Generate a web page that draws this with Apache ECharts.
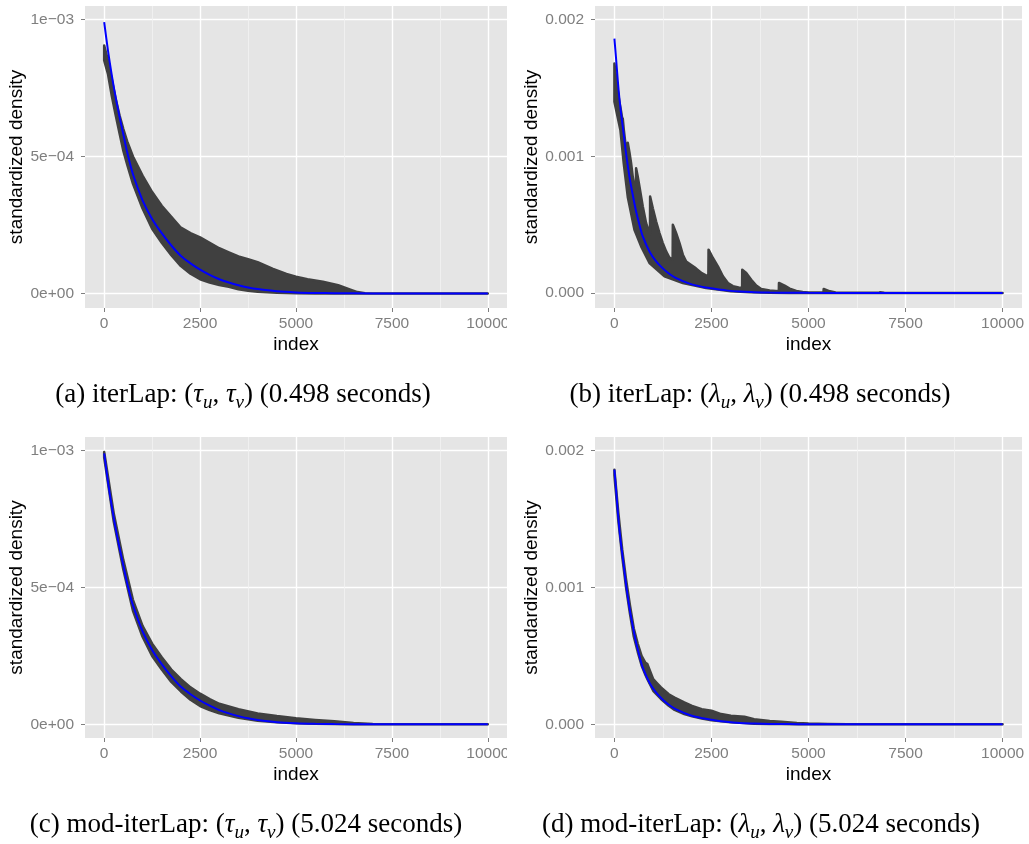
<!DOCTYPE html>
<html>
<head>
<meta charset="utf-8">
<script src="https://cdn.jsdelivr.net/npm/echarts@6/dist/echarts.min.js"></script>
<style>
html,body{margin:0;padding:0;background:#fff;}
#chart{width:1029px;height:844px;}
</style>
</head>
<body>
<div id="chart"></div>
<script>
// ---------- data (density values in units of 1e-3) ----------
const SCALE = 1e-3;

const xTicks = [0, 2500, 5000, 7500, 10000];
const xTickLabels = ['0', '2500', '5000', '7500', '10000'];
const xMinorGrid = [1250, 3750, 6250, 8750];

const yTicksTau = [0, 0.0005, 0.001];
const yTickLabelsTau = ['0e+00', '5e\u221204', '1e\u221203'];
const yTicksLambda = [0, 0.001, 0.002];
const yTickLabelsLambda = ['0.000', '0.001', '0.002'];

const captions = [
  '(a) iterLap: ({g|\u03c4}{s|u}, {g|\u03c4}{s|v}) (0.498 seconds)',
  '(b) iterLap: ({g|\u03bb}{s|u}, {g|\u03bb}{s|v}) (0.498 seconds)',
  '(c) mod-iterLap: ({g|\u03c4}{s|u}, {g|\u03c4}{s|v}) (5.024 seconds)',
  '(d) mod-iterLap: ({g|\u03bb}{s|u}, {g|\u03bb}{s|v}) (5.024 seconds)'
];

// true standardized density (blue) for tau
const trueTau = [[0,0.990],[100,0.885],[200,0.795],[300,0.715],[400,0.645],[500,0.580],[600,0.515],[750,0.435],[1000,0.340],[1250,0.272],[1500,0.220],[1750,0.175],[2000,0.137],[2250,0.110],[2500,0.087],[2750,0.068],[3000,0.052],[3250,0.040],[3500,0.030],[3750,0.022],[4000,0.016],[4500,0.008],[5000,0.004],[5500,0.002],[6000,0.001],[7000,0.0003],[8000,0.0001],[10000,0]];

// true standardized density (blue) for lambda
const trueLambda = [[0,1.861],[43,1.715],[86,1.557],[129,1.423],[172,1.314],[215,1.217],[258,1.119],[301,1.020],[387,0.852],[473,0.718],[559,0.596],[645,0.499],[731,0.414],[903,0.304],[1075,0.231],[1247,0.180],[1419,0.139],[1591,0.109],[1935,0.068],[2279,0.044],[2500,0.034],[2881,0.019],[3225,0.010],[3600,0.006],[4000,0.003],[4500,0.0015],[5000,0.0007],[6000,0.0002],[7000,0],[10000,0]];

// (a) iterLap tau: envelope of the approximated density
const upperA = [[0,0.905],[100,0.850],[200,0.780],[300,0.710],[400,0.650],[500,0.600],[600,0.555],[750,0.500],[1000,0.430],[1250,0.370],[1500,0.320],[1750,0.280],[2000,0.240],[2250,0.220],[2500,0.205],[2750,0.185],[3000,0.165],[3250,0.150],[3500,0.135],[3750,0.125],[4000,0.114],[4400,0.090],[4750,0.071],[5000,0.061],[5300,0.052],[5700,0.043],[6100,0.030],[6400,0.015],[6600,0.005],[6800,0.001],[10000,0]];
const lowerA = [[0,0.850],[100,0.800],[200,0.720],[300,0.650],[400,0.585],[500,0.520],[600,0.470],[750,0.400],[1000,0.310],[1250,0.236],[1500,0.185],[1750,0.140],[2000,0.100],[2250,0.072],[2500,0.052],[2750,0.040],[3000,0.031],[3250,0.024],[3500,0.015],[3750,0.010],[4000,0.006],[4500,0.003],[5000,0.001],[5500,0],[10000,0]];

// (b) iterLap lambda
const upperB = [[0,1.680],[43,1.580],[86,1.480],[129,1.400],[172,1.330],[210,1.260],[215,1.277],[240,1.200],[280,1.100],[320,1.000],[340,0.960],[344,1.100],[387,1.030],[430,0.950],[473,0.850],[516,0.780],[555,0.750],[559,0.912],[602,0.850],[645,0.780],[731,0.633],[817,0.511],[903,0.438],[916,0.430],[920,0.706],[989,0.620],[1075,0.523],[1161,0.438],[1247,0.365],[1333,0.304],[1419,0.258],[1500,0.245],[1505,0.499],[1591,0.438],[1677,0.365],[1763,0.280],[1849,0.230],[1950,0.210],[2100,0.180],[2250,0.145],[2420,0.120],[2425,0.317],[2537,0.256],[2666,0.195],[2795,0.122],[2924,0.073],[3053,0.050],[3200,0.040],[3290,0.036],[3293,0.170],[3396,0.146],[3525,0.097],[3654,0.054],[3783,0.029],[4000,0.018],[4235,0.012],[4239,0.073],[4385,0.054],[4514,0.032],[4686,0.015],[4850,0.007],[5000,0.004],[5385,0.003],[5391,0.029],[5550,0.012],[5700,0.004],[5900,0.002],[6830,0.001],[6840,0.006],[6950,0.001],[7200,0],[10000,0]];
const lowerB = [[0,1.400],[155,1.190],[241,0.946],[344,0.703],[516,0.463],[688,0.341],[903,0.219],[1290,0.122],[1763,0.073],[2365,0.036],[3000,0.012],[3500,0.005],[4000,0.002],[4500,0],[10000,0]];

// (c) mod-iterLap tau
const upperC = [[0,0.995],[250,0.770],[500,0.600],[750,0.455],[1000,0.360],[1250,0.295],[1500,0.245],[1750,0.200],[2000,0.165],[2250,0.135],[2500,0.112],[2750,0.092],[3000,0.075],[3500,0.055],[4000,0.040],[4500,0.030],[5000,0.022],[5500,0.016],[6000,0.011],[6500,0.005],[7000,0.001],[7500,0],[10000,0]];
const lowerC = [[0,0.975],[250,0.740],[500,0.565],[750,0.415],[1000,0.320],[1250,0.250],[1500,0.200],[1750,0.155],[2000,0.120],[2250,0.090],[2500,0.067],[2750,0.052],[3000,0.040],[3500,0.024],[4000,0.013],[4500,0.008],[5000,0.004],[5500,0.002],[6000,0.001],[6500,0],[10000,0]];

// (d) mod-iterLap lambda
const upperD = [[0,1.860],[100,1.550],[200,1.280],[300,1.060],[400,0.870],[500,0.700],[600,0.590],[700,0.500],[800,0.450],[850,0.440],[1000,0.330],[1100,0.300],[1200,0.270],[1400,0.220],[1550,0.195],[1800,0.160],[2000,0.135],[2250,0.110],[2500,0.100],[2750,0.075],[3000,0.062],[3350,0.056],[3600,0.038],[4000,0.024],[4300,0.019],[4700,0.010],[5000,0.006],[5500,0.003],[6000,0.001],[7000,0.001],[10000,0]];
const lowerD = [[0,1.820],[100,1.490],[200,1.230],[300,1.000],[400,0.810],[500,0.640],[600,0.530],[700,0.430],[800,0.360],[850,0.330],[1000,0.245],[1100,0.215],[1200,0.185],[1400,0.135],[1550,0.105],[1800,0.075],[2000,0.058],[2250,0.042],[2500,0.030],[2750,0.022],[3000,0.015],[3350,0.009],[3600,0.005],[4000,0.003],[4300,0.002],[4700,0.001],[5000,0],[10000,0]];

// ---------- chart ----------
const FONT = 'Liberation Sans, Arial, Helvetica, sans-serif';
const SERIF = 'Liberation Serif, Times New Roman, serif';

const panels = [
  {grid:{left:85, top:6, width:422, height:302},  ymin:-0.000053, ymax:0.001049, yTicks:yTicksTau,    yLabels:yTickLabelsTau,    nameGap:56, upper:upperA, lower:lowerA, truth:trueTau},
  {grid:{left:595, top:6, width:427, height:302}, ymin:-0.00011,  ymax:0.0021,   yTicks:yTicksLambda, yLabels:yTickLabelsLambda, nameGap:51, upper:upperB, lower:lowerB, truth:trueLambda},
  {grid:{left:85, top:437, width:422, height:301}, ymin:-0.00005, ymax:0.00105,  yTicks:yTicksTau,    yLabels:yTickLabelsTau,    nameGap:56, upper:upperC, lower:lowerC, truth:trueTau},
  {grid:{left:595, top:437, width:427, height:301}, ymin:-0.0001, ymax:0.0021,   yTicks:yTicksLambda, yLabels:yTickLabelsLambda, nameGap:51, upper:upperD, lower:lowerD, truth:trueLambda}
];
const captionPos = [[243,395],[760,395],[246,825],[761,825]];

function toReal(arr){ return arr.map(p => [p[0], p[1] * SCALE]); }
function labelFor(ticks, labels){
  return function(v){
    for (let i = 0; i < ticks.length; i++) {
      if (Math.abs(v - ticks[i]) <= Math.abs(ticks[ticks.length-1]) * 1e-6) return labels[i];
    }
    return '';
  };
}

const grid = [], xAxis = [], yAxis = [], series = [];
panels.forEach((p, i) => {
  grid.push(Object.assign({show:true, backgroundColor:'#e5e5e5', borderWidth:0}, p.grid));
  xAxis.push({
    type:'value', gridIndex:i, min:-500, max:10500,
    axisLine:{show:false, onZero:false},
    axisTick:{show:true, length:4, customValues:xTicks, lineStyle:{color:'#7f7f7f', width:1}},
    axisLabel:{customValues:xTicks, formatter:labelFor(xTicks, xTickLabels), color:'#7f7f7f', fontSize:15.5, fontFamily:FONT, margin:8},
    splitLine:{show:true, lineStyle:{color:'#ffffff', width:1.4}},
    name:'index', nameLocation:'middle', nameGap:27,
    nameTextStyle:{color:'#000', fontSize:19, fontFamily:FONT}
  });
  yAxis.push({
    type:'value', gridIndex:i, min:p.ymin, max:p.ymax,
    axisLine:{show:false, onZero:false},
    axisTick:{show:true, length:4, customValues:p.yTicks, lineStyle:{color:'#7f7f7f', width:1}},
    axisLabel:{customValues:p.yTicks, formatter:labelFor(p.yTicks, p.yLabels), color:'#7f7f7f', fontSize:15.5, fontFamily:FONT, margin:11},
    splitLine:{show:true, lineStyle:{color:'#ffffff', width:1.4}},
    name:'standardized density', nameLocation:'middle', nameGap:p.nameGap,
    nameTextStyle:{color:'#000', fontSize:19, fontFamily:FONT}
  });
  // minor vertical grid lines (beneath the data)
  series.push({
    type:'line', xAxisIndex:i, yAxisIndex:i, data:[], z:1, silent:true,
    markLine:{z:1, silent:true, symbol:'none', animation:false, label:{show:false},
      lineStyle:{color:'#f2f2f2', width:0.8, type:'solid'},
      data: xMinorGrid.map(v => ({xAxis:v}))}
  });
  // approximation band
  const up = toReal(p.upper), lo = toReal(p.lower);
  series.push({
    type:'custom', xAxisIndex:i, yAxisIndex:i, z:2, silent:true, clip:true,
    data: up,
    renderItem: function(params, api){
      if (params.dataIndex !== 0) return null;
      const pts = up.map(q => api.coord(q)).concat(lo.slice().reverse().map(q => api.coord(q)));
      return {type:'polygon', shape:{points:pts}, style:{fill:'#404040', stroke:'#404040', lineWidth:2.5, lineJoin:'round'}};
    }
  });
  // true density
  series.push({
    type:'line', xAxisIndex:i, yAxisIndex:i, z:3, silent:true,
    data: toReal(p.truth), showSymbol:false, smooth:0.3,
    lineStyle:{color:'#0000ff', width:2}
  });
});

const graphic = captions.map((c, i) => ({
  type:'text', x:captionPos[i][0], y:captionPos[i][1], z:100,
  style:{
    text:c, fill:'#000', fontSize:27, fontFamily:SERIF, align:'center', verticalAlign:'middle',
    rich:{
      g:{fontStyle:'italic', fontSize:27, fontFamily:SERIF, fill:'#000'},
      s:{fontStyle:'italic', fontSize:19, fontFamily:SERIF, fill:'#000', padding:[15,0,0,0]}
    }
  }
}));
// the left panels were cut at their right edge in the original figure
graphic.push({type:'rect', z:100, shape:{x:507, y:312, width:8, height:26}, style:{fill:'#fff'}});
graphic.push({type:'rect', z:100, shape:{x:507, y:742, width:8, height:26}, style:{fill:'#fff'}});

const chart = echarts.init(document.getElementById('chart'), null, {renderer:'canvas'});
chart.setOption({animation:false, backgroundColor:'#fff', grid, xAxis, yAxis, series, graphic});
</script>
</body>
</html>
